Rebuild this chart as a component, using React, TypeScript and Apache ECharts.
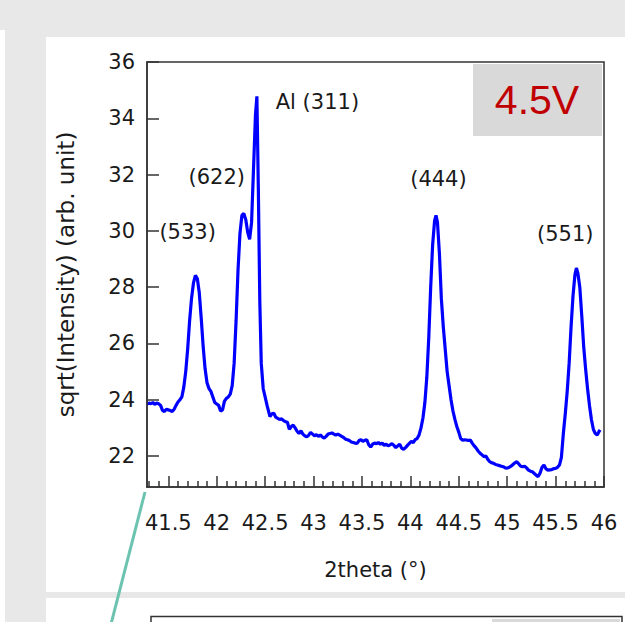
import React, { useEffect, useRef } from "react";
import * as echarts from "echarts";

const TWO_THETA = [
  41.28, 41.3, 41.32, 41.34, 41.36, 41.38, 41.4, 41.42, 41.44, 41.46, 41.48, 41.5, 41.52, 41.54, 41.56, 41.58,
  41.6, 41.62, 41.64, 41.66, 41.68, 41.7, 41.72, 41.74, 41.76, 41.78, 41.8, 41.82, 41.84, 41.86, 41.88, 41.9,
  41.92, 41.94, 41.96, 41.98, 42.0, 42.02, 42.04, 42.06, 42.08, 42.1, 42.12, 42.14, 42.16, 42.18, 42.2, 42.22,
  42.24, 42.26, 42.28, 42.3, 42.32, 42.34, 42.36, 42.38, 42.4, 42.415, 42.43, 42.445, 42.46, 42.48, 42.5, 42.52,
  42.55, 42.57, 42.59, 42.61, 42.63, 42.65, 42.67, 42.69, 42.71, 42.73, 42.75, 42.77, 42.79, 42.81, 42.83, 42.85,
  42.87, 42.89, 42.91, 42.93, 42.95, 42.97, 42.99, 43.01, 43.03, 43.05, 43.07, 43.09, 43.11, 43.13, 43.15, 43.17,
  43.19, 43.21, 43.23, 43.25, 43.27, 43.29, 43.31, 43.33, 43.35, 43.37, 43.39, 43.41, 43.43, 43.45, 43.47, 43.49,
  43.51, 43.53, 43.55, 43.57, 43.59, 43.61, 43.63, 43.65, 43.67, 43.69, 43.71, 43.73, 43.75, 43.77, 43.79, 43.81,
  43.83, 43.85, 43.87, 43.89, 43.91, 43.93, 43.95, 43.97, 43.99, 44.01, 44.03, 44.05, 44.07, 44.09, 44.11, 44.13,
  44.15, 44.17, 44.19, 44.21, 44.23, 44.25, 44.265, 44.28, 44.3, 44.32, 44.34, 44.36, 44.38, 44.4, 44.42, 44.44,
  44.46, 44.48, 44.5, 44.52, 44.54, 44.56, 44.58, 44.6, 44.62, 44.64, 44.66, 44.68, 44.7, 44.72, 44.74, 44.76,
  44.78, 44.8, 44.82, 44.84, 44.86, 44.88, 44.9, 44.92, 44.94, 44.96, 44.98, 45.0, 45.02, 45.04, 45.06, 45.08,
  45.1, 45.12, 45.14, 45.16, 45.18, 45.2, 45.22, 45.24, 45.26, 45.28, 45.3, 45.32, 45.34, 45.36, 45.38, 45.4,
  45.42, 45.44, 45.46, 45.48, 45.5, 45.52, 45.54, 45.56, 45.58, 45.6, 45.62, 45.64, 45.66, 45.68, 45.7, 45.715,
  45.73, 45.75, 45.77, 45.79, 45.81, 45.83, 45.85, 45.87, 45.89, 45.91, 45.93, 45.95, 45.96,
];

const SQRT_INTENSITY = [
  23.85, 23.88, 23.86, 23.9, 23.84, 23.88, 23.86, 23.8, 23.62, 23.58, 23.66, 23.64, 23.62, 23.58, 23.66, 23.8,
  23.92, 24.0, 24.1, 24.45, 25.0, 25.8, 26.8, 27.6, 28.15, 28.42, 28.3, 27.8, 26.9, 25.9, 25.1, 24.6,
  24.4, 24.3, 24.1, 23.9, 23.85, 23.8, 23.6, 23.64, 23.95, 24.05, 24.1, 24.2, 24.5, 25.3, 26.8, 28.6,
  29.9, 30.55, 30.62, 30.4, 29.95, 29.7, 30.3, 32.2, 34.1, 34.78, 31.5, 27.5, 25.3, 24.4, 24.1, 23.8,
  23.4, 23.5, 23.52, 23.38, 23.34, 23.3, 23.32, 23.26, 23.22, 23.2, 22.95, 23.05, 23.1, 23.0, 22.88, 22.8,
  22.9, 22.78, 22.72, 22.68, 22.74, 22.84, 22.78, 22.72, 22.76, 22.7, 22.75, 22.68, 22.64, 22.7, 22.78, 22.8,
  22.82, 22.78, 22.74, 22.78, 22.74, 22.7, 22.66, 22.6, 22.58, 22.55, 22.5, 22.48, 22.46, 22.45, 22.55, 22.58,
  22.52, 22.56, 22.58, 22.4, 22.32, 22.42, 22.46, 22.44, 22.48, 22.42, 22.46, 22.38, 22.42, 22.36, 22.4, 22.44,
  22.38, 22.3, 22.36, 22.42, 22.28, 22.24, 22.3, 22.38, 22.45, 22.52, 22.48, 22.58, 22.62, 22.75, 23.0, 23.35,
  23.9, 24.8, 26.2, 28.0, 29.5, 30.35, 30.55, 30.3, 29.2, 27.6, 26.6, 25.8, 25.0, 24.5, 24.0, 23.6,
  23.3, 23.05, 22.85, 22.62, 22.56, 22.58, 22.57, 22.55, 22.57, 22.45, 22.36, 22.28, 22.18, 22.1, 22.04, 21.98,
  22.0, 21.88, 21.8, 21.76, 21.74, 21.7, 21.68, 21.66, 21.64, 21.62, 21.58, 21.57, 21.6, 21.64, 21.7, 21.76,
  21.8, 21.72, 21.64, 21.62, 21.64, 21.58, 21.5, 21.46, 21.44, 21.38, 21.32, 21.27, 21.4, 21.6, 21.68, 21.55,
  21.5, 21.51, 21.52, 21.55, 21.56, 21.6, 21.68, 21.95, 22.8, 23.5, 24.3, 25.3, 26.6, 27.7, 28.45, 28.68,
  28.5, 28.0, 27.0, 25.9, 25.1, 24.4, 23.8, 23.3, 22.95, 22.8, 22.75, 22.88, 22.93,
];

const X_TICKS = [41.5, 42, 42.5, 43, 43.5, 44, 44.5, 45, 45.5, 46];
const X_MINOR_TICKS = [
  41.3, 41.4, 41.6, 41.7, 41.8, 41.9, 42.1, 42.2, 42.3, 42.4, 42.6, 42.7, 42.8, 42.9, 43.1, 43.2, 43.3, 43.4,
  43.6, 43.7, 43.8, 43.9, 44.1, 44.2, 44.3, 44.4, 44.6, 44.7, 44.8, 44.9, 45.1, 45.2, 45.3, 45.4, 45.6, 45.7,
  45.8, 45.9,
];
const Y_TICKS = [22, 24, 26, 28, 30, 32, 34, 36];

const PEAK_LABELS = ["(533)", "(622)", "Al (311)", "(444)", "(551)"];
const PEAK_LABEL_X = [41.7, 42.0, 43.04, 44.29, 45.6];
const PEAK_LABEL_Y = [29.95, 31.9, 34.58, 31.86, 29.9];

const X_NAME = "2theta (°)";
const Y_NAME = "sqrt(Intensity) (arb. unit)";
const PANEL_TAG = "4.5V";

const FONT = "'DejaVu Sans', sans-serif";
const TEXT = "#1a1a1a";

export default function App() {
  const ref = useRef<HTMLDivElement>(null);
  useEffect(() => {
    if (!ref.current) return;
    const chart = echarts.init(ref.current, null, { renderer: "svg" });
    const line = TWO_THETA.map((x, i) => [x, SQRT_INTENSITY[i]]);
    const labels = PEAK_LABELS.map((n, i) => ({ name: n, value: [PEAK_LABEL_X[i], PEAK_LABEL_Y[i]] }));
    chart.setOption({
      animation: false,
      backgroundColor: "#e8e8e8",
      grid: {
        left: 147,
        top: 62,
        width: 457,
        height: 425,
        show: true,
        backgroundColor: "#fff",
        borderColor: "#333",
        borderWidth: 1.5,
      },
      xAxis: [
        {
          type: "value",
          min: 41.28,
          max: 46,
          z: 5,
          name: X_NAME,
          nameLocation: "middle",
          nameGap: 72,
          nameTextStyle: { fontFamily: FONT, fontSize: 21, color: TEXT },
          axisLine: { show: true, lineStyle: { color: "#333", width: 1.5 } },
          axisTick: { show: true, inside: true, length: 11, customValues: X_TICKS, lineStyle: { color: "#333", width: 1.5 } },
          axisLabel: { customValues: X_TICKS, margin: 25, fontFamily: FONT, fontSize: 21, color: TEXT, formatter: (v: number) => String(v) },
          splitLine: { show: false },
        },
        {
          type: "value",
          min: 41.28,
          max: 46,
          z: 5,
          position: "bottom",
          gridIndex: 0,
          axisLine: { show: false },
          axisTick: { show: true, inside: true, length: 6, customValues: X_MINOR_TICKS, lineStyle: { color: "#333", width: 1.5 } },
          axisLabel: { show: false },
          splitLine: { show: false },
        },
      ],
      yAxis: {
        type: "value",
        min: 20.9,
        max: 36,
        z: 5,
        name: Y_NAME,
        nameLocation: "middle",
        nameGap: 70,
        nameTextStyle: { fontFamily: FONT, fontSize: 23, color: TEXT },
        axisLine: { show: true, lineStyle: { color: "#333", width: 1.5 } },
        axisTick: { show: true, inside: true, length: 12, customValues: Y_TICKS, lineStyle: { color: "#333", width: 1.5 } },
        axisLabel: { customValues: Y_TICKS, margin: 12, fontFamily: FONT, fontSize: 21, color: TEXT },
        splitLine: { show: false },
      },
      series: [
        {
          type: "line",
          data: line,
          xAxisIndex: 0,
          showSymbol: false,
          symbol: "none",
          lineStyle: { color: "#0000ff", width: 3.2 },
          z: 3,
        },
        {
          type: "scatter",
          data: labels,
          xAxisIndex: 0,
          symbolSize: 0,
          itemStyle: { opacity: 1 },
          label: {
            show: true,
            position: "inside",
            formatter: (p: any) => p.name,
            fontFamily: FONT,
            fontSize: 21,
            color: TEXT,
            opacity: 1,
          },
          z: 4,
        },
      ],
      graphic: [
        { type: "rect", z: -10, shape: { x: 0, y: 30, width: 5, height: 600 }, style: { fill: "#fff" } },
        { type: "rect", z: -10, shape: { x: 46, y: 37, width: 590, height: 555 }, style: { fill: "#fff" } },
        { type: "rect", z: -10, shape: { x: 46, y: 598, width: 590, height: 40 }, style: { fill: "#fff" } },
        {
          type: "rect",
          z: -9,
          shape: { x: 151, y: 616.5, width: 471, height: 30 },
          style: { fill: "#fff", stroke: "#333", lineWidth: 1.5 },
        },
        { type: "rect", z: -8, shape: { x: 492, y: 619, width: 128, height: 10 }, style: { fill: "#d9d9d9" } },
        {
          type: "line",
          z: 10,
          shape: { x1: 145, y1: 492, x2: 110, y2: 628 },
          style: { stroke: "#6cc3b0", lineWidth: 3 },
        },
        {
          type: "rect",
          z: 10,
          shape: { x: 473, y: 64, width: 129, height: 72 },
          style: { fill: "#d9d9d9" },
        },
        {
          type: "text",
          z: 11,
          x: 537,
          y: 100,
          style: {
            text: PANEL_TAG,
            fill: "#c00000",
            font: "41px 'Liberation Sans', Arial, sans-serif",
            align: "center",
            verticalAlign: "middle",
          },
        },
      ],
    });
    return () => chart.dispose();
  }, []);
  return <div ref={ref} style={{ position: "absolute", left: 0, top: 0, width: 625, height: 622 }} />;
}
